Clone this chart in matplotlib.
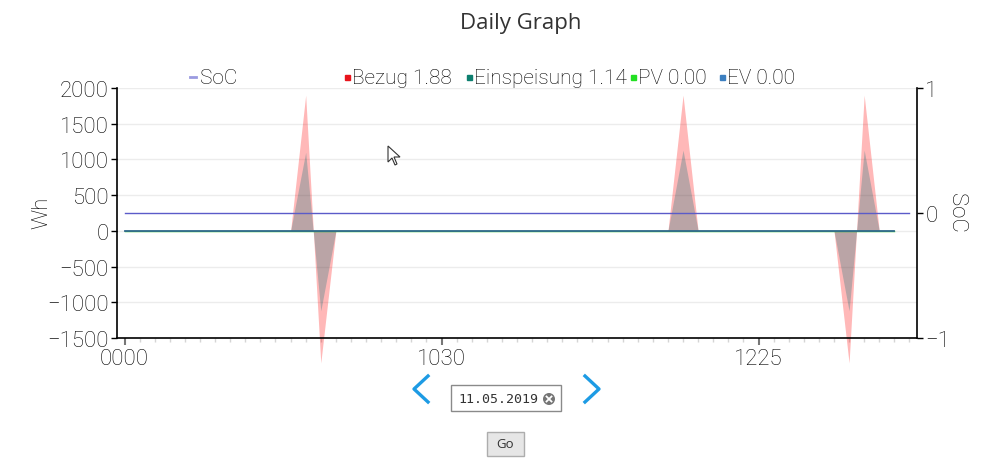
import numpy as np
import matplotlib
matplotlib.use("Agg")
from matplotlib import pyplot as plt
from matplotlib.patches import Rectangle, Ellipse, Polygon
from matplotlib.lines import Line2D

# series values (one value per time slot)
bezug = [0, 0, 0, 0, 0, 0, 0, 0, 0, 0, 0, 0, 1900,
         -1850, 0, 0, 0, 0, 0, 0, 0, 0, 0, 0, 0, 0,
         0, 0, 0, 0, 0, 0, 0, 0, 0, 0, 0, 1900, 0,
         0, 0, 0, 0, 0, 0, 0, 0, 0, -1850, 1900, 0, 0]
einspeisung = [0, 0, 0, 0, 0, 0, 0, 0, 0, 0, 0, 0, 1100,
               -1120, 0, 0, 0, 0, 0, 0, 0, 0, 0, 0, 0, 0,
               0, 0, 0, 0, 0, 0, 0, 0, 0, 0, 0, 1130, 0,
               0, 0, 0, 0, 0, 0, 0, 0, 0, -1120, 1130, 0, 0]
pv = [0, 0, 0, 0, 0, 0, 0, 0, 0, 0, 0, 0, 0,
      0, 0, 0, 0, 0, 0, 0, 0, 0, 0, 0, 0, 0,
      0, 0, 0, 0, 0, 0, 0, 0, 0, 0, 0, 0, 0,
      0, 0, 0, 0, 0, 0, 0, 0, 0, 0, 0, 0, 0]
ev = list(pv)
soc = [0, 0, 0, 0, 0, 0, 0, 0, 0, 0, 0, 0, 0,
       0, 0, 0, 0, 0, 0, 0, 0, 0, 0, 0, 0, 0,
       0, 0, 0, 0, 0, 0, 0, 0, 0, 0, 0, 0, 0,
       0, 0, 0, 0, 0, 0, 0, 0, 0, 0, 0, 0, 0, 0]

n_slots = 53
tick_pos = [0, 21, 42]
tick_text = ["0000", "1030", "1225"]

legend_names = ["Bezug", "Einspeisung", "PV", "EV"]
legend_totals = [1.88, 1.14, 0.00, 0.00]
legend_colors = ["#e8141c", "#0d7f6f", "#22e022", "#3c7fc0"]
legend_x = [347, 469, 633, 722]

date_text = "11.05.2019"

FONT = ["Roboto", "DejaVu Sans"]
FW = "light"
W, H = 994, 464


def px(x, y):
    return x / W, 1 - y / H


fig = plt.figure(figsize=(W / 100, H / 100), dpi=100)
fig.patch.set_facecolor("white")

ax = fig.add_axes([117 / W, 1 - 339 / H, 800 / W, 250 / H])
x = np.arange(len(bezug))
f1 = ax.fill_between(x, 0, bezug, color="#ff0000", alpha=0.28, lw=0)
f2 = ax.fill_between(x, 0, einspeisung, color="#006f78", alpha=0.27, lw=0)
f1.set_clip_on(False)
f2.set_clip_on(False)
ax.plot(x, pv, color="#22cc22", lw=1)
ax.plot(x, ev, color="#33698f", lw=1.3)

ax.set_xlim(-0.5, n_slots - 0.5)
ax.set_ylim(-1500, 2000)
ax.set_yticks(np.arange(-1500, 2001, 500))
ax.yaxis.grid(True, color="#ececec", lw=1)
ax.set_axisbelow(True)
ax.set_xticks(tick_pos)
ax.set_xticklabels(tick_text)
ax.set_xticks(np.arange(n_slots), minor=True)
ax.tick_params(axis="x", which="major", length=5, width=1.5, color="#777777",
               pad=2, labelsize=16)
ax.tick_params(axis="x", which="minor", length=3, width=1, color="#d5d5d5")
ax.tick_params(axis="y", length=4, width=1, color="black", pad=2, labelsize=16)
for lab in ax.get_xticklabels() + ax.get_yticklabels():
    lab.set_family(FONT)
    lab.set_fontweight(FW)
    lab.set_color("black")
for s in ["top", "right"]:
    ax.spines[s].set_visible(False)
for s in ["left", "bottom"]:
    ax.spines[s].set_color("black")
    ax.spines[s].set_linewidth(1.2)

ax2 = ax.twinx()
ax2.plot(np.arange(len(soc)), soc, color="#5b5bc9", lw=1)
ax2.set_ylim(-1, 1)
ax2.set_yticks([-1, 0, 1])
ax2.tick_params(axis="y", length=4, width=1, color="black", pad=2, labelsize=16)
for lab in ax2.get_yticklabels():
    lab.set_family(FONT)
    lab.set_fontweight(FW)
    lab.set_color("black")
for s in ["top", "left", "bottom"]:
    ax2.spines[s].set_visible(False)
ax2.spines["right"].set_linewidth(1.2)

# titles and axis labels
fig.text(*px(521, 23), "Daily Graph", ha="center", va="center", fontsize=16,
         family=["Open Sans", "DejaVu Sans"], color="#333333")
fig.text(*px(42, 213), "Wh", rotation=90, ha="center", va="center",
         fontsize=16, family=FONT, fontweight=FW, color="black")
fig.text(*px(957, 213), "SoC", rotation=-90, ha="center", va="center",
         fontsize=16, family=FONT, fontweight=FW, color="black")

# legend row
fig.add_artist(Line2D([190 / W, 196 / W], [1 - 78 / H] * 2, color="#9a9ae0",
                      lw=2, transform=fig.transFigure))
fig.text(*px(200, 78), "SoC", ha="left", va="center", fontsize=15,
         family=FONT, fontweight=FW, color="black")
for name, tot, col, lx in zip(legend_names, legend_totals, legend_colors, legend_x):
    fig.add_artist(Rectangle(px(lx - 2, 81), 5 / W, 5 / H, color=col,
                             transform=fig.transFigure))
    fig.text(*px(lx + 5, 78), "%s %.2f" % (name, tot), ha="left", va="center",
             fontsize=15, family=FONT, fontweight=FW, color="black")

# date picker controls
blue = "#1d9be4"
fig.add_artist(Line2D([428 / W, 414 / W, 428 / W],
                      [1 - 377 / H, 1 - 390 / H, 1 - 403 / H],
                      color=blue, lw=2.4, transform=fig.transFigure))
fig.add_artist(Line2D([585 / W, 599 / W, 585 / W],
                      [1 - 377 / H, 1 - 390 / H, 1 - 403 / H],
                      color=blue, lw=2.4, transform=fig.transFigure))
fig.add_artist(Rectangle(px(451, 412), 110 / W, 26 / H, facecolor="white",
                         edgecolor="#8a8a8a", lw=1, transform=fig.transFigure))
fig.text(*px(458, 400), date_text, ha="left", va="center", fontsize=9.5,
         family="DejaVu Sans Mono", color="#333333")
fig.add_artist(Ellipse(px(549, 400), 12 / W, 12 / H, facecolor="#757575",
                       lw=0, transform=fig.transFigure))
for dx in (-1, 1):
    fig.add_artist(Line2D([546.5 / W, 551.5 / W],
                          [1 - (400 - 2.5 * dx) / H, 1 - (400 + 2.5 * dx) / H],
                          color="white", lw=1.3, transform=fig.transFigure))
fig.add_artist(Rectangle(px(487, 457), 37 / W, 24 / H, facecolor="#e6e6e6",
                         edgecolor="#adadad", lw=1, transform=fig.transFigure))
fig.text(*px(505.5, 445), "Go", ha="center", va="center", fontsize=9.5,
         family=["Open Sans", "DejaVu Sans"], color="#333333")

# mouse pointer
cur = [(388, 147), (388, 163), (392, 159), (395, 166), (397, 165),
       (394, 158), (400, 158)]
fig.add_artist(Polygon([px(a, b) for a, b in cur], closed=True,
                       facecolor="white", edgecolor="#333333", lw=0.8,
                       transform=fig.transFigure))

fig.savefig("out.png", dpi=100)
